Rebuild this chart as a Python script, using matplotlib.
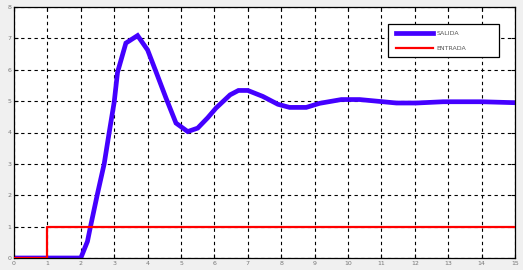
"""Step response (SALIDA) versus unit step input (ENTRADA)."""

import matplotlib

matplotlib.use("Agg")
import matplotlib.pyplot as plt
from matplotlib.patches import Rectangle

# Output response
t_salida = [0, 2.0, 2.2, 2.27, 2.5, 2.7, 2.85, 3.0, 3.1, 3.35, 3.7, 4.0, 4.25,
            4.55, 4.85, 5.2, 5.5, 5.8, 6.05, 6.47, 6.72, 7.0, 7.45, 7.9, 8.25,
            8.75, 9.15, 9.8, 10.35, 10.85, 11.45, 12.05, 12.85, 14.0, 15.0]
y_salida = [0, 0, 0.53, 0.9, 2.05, 3.0, 4.0, 4.97, 5.92, 6.85, 7.09, 6.63, 5.94,
            5.1, 4.3, 4.03, 4.14, 4.47, 4.78, 5.2, 5.34, 5.34, 5.15, 4.9, 4.8,
            4.8, 4.93, 5.05, 5.05, 5.0, 4.94, 4.94, 4.98, 4.98, 4.95]

# Unit step input
t_entrada = [0, 1, 1, 15]
y_entrada = [0, 0, 1, 1]

x_ticks = list(range(0, 16))
y_ticks = list(range(0, 9))


def main() -> None:
    fig = plt.figure(figsize=(5.23, 2.70), dpi=100, facecolor="#f0f0f0")
    ax = fig.add_axes([14 / 523, 12 / 270, 501 / 523, 251 / 270])
    ax.set_facecolor("white")

    ax.plot(t_salida, y_salida, color="#4400ff", lw=3.4, label="SALIDA",
            solid_joinstyle="miter", zorder=2)
    ax.plot(t_entrada, y_entrada, color="#ff0000", lw=1.6, label="ENTRADA",
            zorder=3)

    ax.set_xlim(0, 15)
    ax.set_ylim(0, 8)
    ax.set_xticks(x_ticks)
    ax.set_yticks(y_ticks)
    ax.tick_params(direction="in", length=3, width=0.8, labelsize=4.5,
                   labelcolor="#777777", pad=2, top=True, right=True)
    ax.grid(True, color="black", ls=(0, (3, 3)), lw=0.8)
    for spine in ax.spines.values():
        spine.set_color("black")
        spine.set_linewidth(0.9)

    # matlab-style legend box, wider than its contents
    box = Rectangle((0.7465, 0.801), 0.2215, 0.131, transform=ax.transAxes,
                    facecolor="white", edgecolor="black", lw=0.9, zorder=4)
    ax.add_patch(box)
    leg = ax.legend(loc="upper left", bbox_to_anchor=(0.762, 0.906),
                    fontsize=4.5, frameon=False, handlelength=5.9,
                    borderpad=0, labelspacing=1.6, handletextpad=0.65,
                    borderaxespad=0)
    leg.set_zorder(5)
    for text in leg.get_texts():
        text.set_color("#555555")

    fig.savefig("out.png", dpi=100, facecolor=fig.get_facecolor())
    plt.close(fig)


if __name__ == "__main__":
    main()
